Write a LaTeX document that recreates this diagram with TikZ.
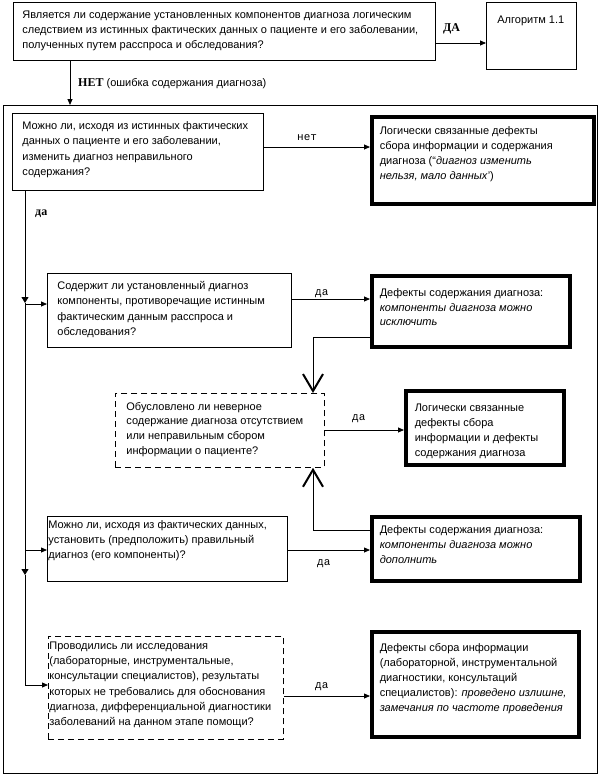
\documentclass[tikz,border=0pt]{standalone}
\usepackage{fontspec}
\setmainfont{Liberation Sans}
\newfontfamily\lserif{Liberation Serif}
\newfontfamily\lmono{Liberation Mono}
\usetikzlibrary{arrows.meta}
% \btxt[baselineskip]{width}{height}{padx}{pady}{text}
\newcommand\btxt[6][15]{\parbox[c][#3pt][t]{#2pt}{\fontsize{11}{#1}\selectfont\raggedright\leftskip=#4pt\relax\vspace*{#5pt}\strut#6}}
\tikzset{
  bx/.style={draw, line width=0.8pt, anchor=north west, inner sep=0pt},
  tbx/.style={draw, line width=3.5pt, anchor=north west, inner sep=0pt},
  dbx/.style={draw, line width=0.8pt, dash pattern=on 6pt off 4pt, anchor=north west, inner sep=0pt},
  arr/.style={line width=0.8pt, -{Triangle[length=6pt,width=5pt]}},
  varr/.style={line width=0.8pt, -{Straight Barb[length=17pt,width=20pt,line width=2pt]}},
  lbl/.style={anchor=base west, inner sep=0pt, font=\fontsize{11}{13}\selectfont},
  mlbl/.style={anchor=base west, inner sep=0pt, font=\lmono\fontsize{11}{13}\selectfont},
  blbl/.style={anchor=base west, inner sep=0pt, font=\lserif\bfseries\fontsize{12}{14}\selectfont},
}
\begin{document}
\begin{tikzpicture}[x=1pt,y=-1pt]
\useasboundingbox (0,0) rectangle (598,784);
% outer group
\node[bx, minimum width=594pt, minimum height=668pt] (grp) at (3,105) {};
% top question
\node[bx] (b1) at (13,2) {\btxt{422}{58}{9}{5.5}{Является ли содержание установленных компонентов диагноза логическим\\
следствием из истинных фактических данных о пациенте и его заболевании,\\
полученных путем расспроса и обследования?}};
\node[bx] (alg) at (486,2) {\btxt{90}{67}{11}{11}{Алгоритм 1.1}};
\draw[arr] (b1.east |- 0,43) -- (alg.west |- 0,43);
\node[blbl] (lda) at (443,32) {ДА};
\draw[arr] (b1.south -| 70,0) -- (grp.north -| 70,0);
\node[lbl] (lnet) at (78,86) {{\lserif\bfseries\fontsize{12}{14}\selectfont НЕТ} (ошибка содержания диагноза)};
% question 2
\node[bx] (b2) at (12,113) {\btxt[15.5]{251}{77}{10}{5}{Можно ли, исходя из истинных фактических\\
данных о пациенте и его заболевании,\\
изменить диагноз неправильного\\
содержания?}};
\node[tbx] (b3) at (370,115) {\btxt{222}{87}{8}{7}{Логически связанные дефекты\\
сбора информации и содержания\\
диагноза (“\textit{диагноз изменить}\\
\textit{нельзя, мало данных}’)}};
\draw[arr] (b2.east |- 0,147) -- (b3.west |- 0,147);
\node[mlbl] (lnet2) at (297,140) {нет};
% trunk
\coordinate (j1) at (25,304);
\coordinate (a1) at (25,303);
\coordinate (a2) at (25,575);
\coordinate (j2) at (25,550);
\coordinate (j3) at (25,685);
\draw[line width=0.8pt, -{Triangle[length=6pt,width=7pt]}] (b2.south -| a1) -- (a1);
\draw[line width=0.8pt, -{Triangle[length=6pt,width=7pt]}] (a1) -- (a2);
\draw[line width=0.8pt] (a2) -- (j3);
\node[blbl] (lda2) at (35,215) {да};
% question 3
\node[bx] (b4) at (47,273) {\btxt[15.5]{244}{74}{10}{5}{Содержит ли установленный диагноз\\
компоненты, противоречащие истинным\\
фактическим данным расспроса и\\
обследования?}};
\draw[arr] (j1) -- (j1 -| b4.west);
\node[tbx] (b5) at (370,274) {\btxt[14.5]{198}{71}{8}{11}{Дефекты содержания диагноза:\\
\textit{компоненты диагноза можно}\\
\textit{исключить}}};
\draw[arr] (b4.east |- 0,299) -- (b5.west |- 0,299);
\node[mlbl] (lda3) at (315,295) {да};
% dashed question
\node[dbx] (d1) at (115,393) {\btxt[14.7]{209}{74}{11}{6.5}{Обусловлено ли неверное\\
содержание диагноза отсутствием\\
или неправильным сбором\\
информации о пациенте?}};
\node[tbx] (b10) at (404,389) {\btxt{158}{74}{9}{10.5}{Логически связанные\\
дефекты сбора\\
информации и дефекты\\
содержания диагноза}};
\draw[arr] (d1.east |- 0,430) -- (b10.west |- 0,430);
\node[mlbl] (lda4) at (352,420) {да};
\draw[varr] (b5.west |- 0,337) -| (d1.north -| 313,0);
% question 4
\node[bx] (b6) at (47,516) {\btxt{240}{65}{1}{1.5}{Можно ли, исходя из фактических данных,\\
установить (предположить) правильный\\
диагноз (его компоненты)?}};
\draw[arr] (j2) -- (j2 -| b6.west);
\node[tbx] (b7) at (370,515) {\btxt{208}{64}{8}{6.5}{Дефекты содержания диагноза:\\
\textit{компоненты диагноза можно}\\
\textit{дополнить}}};
\draw[arr] (b6.east |- 0,550) -- (b7.west |- 0,550);
\node[mlbl] (lda5) at (317,565) {да};
\draw[varr] (b7.west |- 0,530) -| (d1.south -| 313,0);
% question 5
\node[dbx] (d2) at (48,636) {\btxt[15.2]{235}{103}{1}{2.5}{Проводились ли исследования\\
(лабораторные, инструментальные,\\
консультации специалистов), результаты\\
которых не требовались для обоснования\\
диагноза, дифференциальной диагностики\\
заболеваний на данном этапе помощи?}};
\draw[arr] (j3) -- (j3 -| d2.west);
\node[tbx] (b9) at (370,630) {\btxt{207}{105}{8}{9.5}{Дефекты сбора информации\\
(лабораторной, инструментальной\\
диагностики, консультаций\\
специалистов): \textit{проведено излишне,}\\
\textit{замечания по частоте проведения}}};
\draw[arr] (d2.east |- 0,696) -- (b9.west |- 0,696);
\node[mlbl] (lda6) at (315,688) {да};
\end{tikzpicture}
\end{document}
